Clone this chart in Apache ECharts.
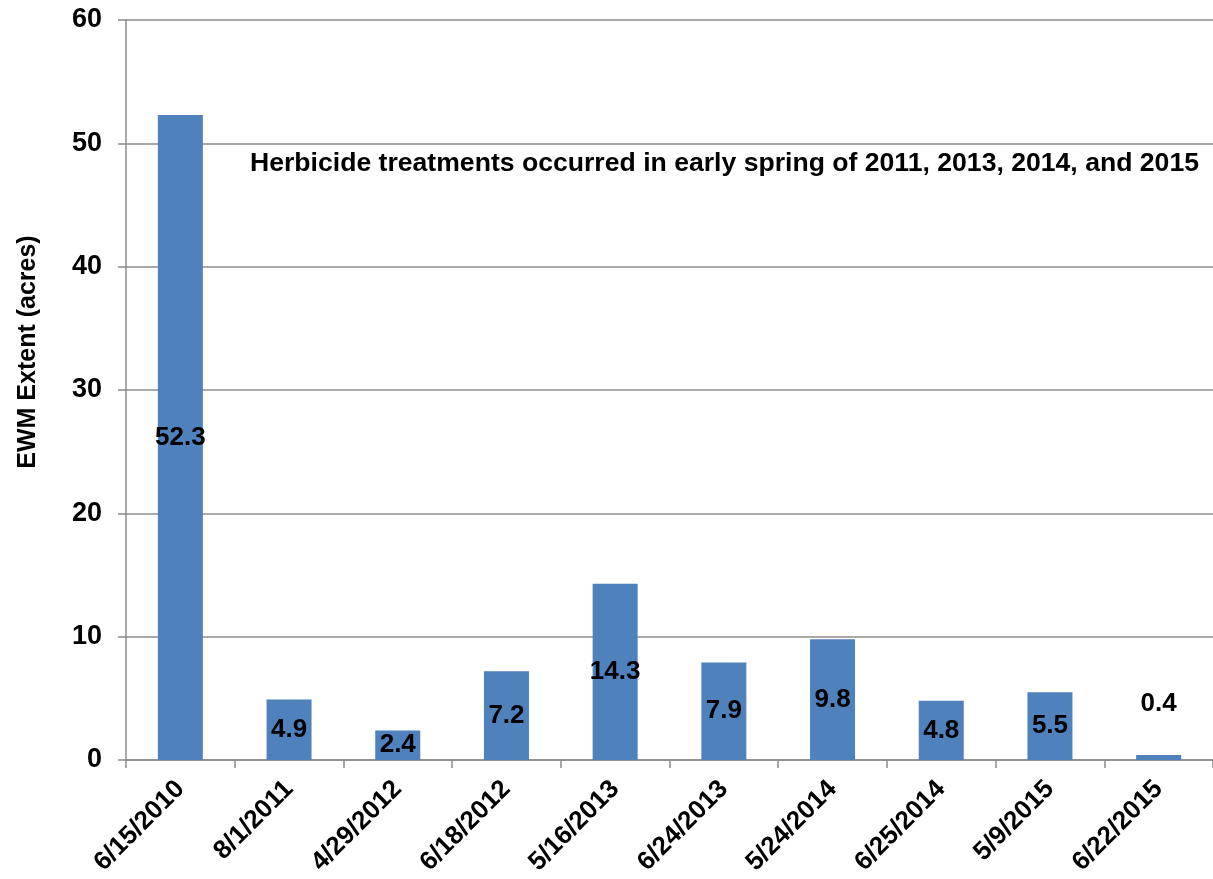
<!DOCTYPE html>
<html>
<head>
<meta charset="utf-8">
<script src="https://cdn.jsdelivr.net/npm/echarts@6/dist/echarts.min.js"></script>
<style>
  html, body { margin: 0; padding: 0; background: #ffffff; }
  #chart { width: 1213px; height: 879px; }
</style>
</head>
<body>
<div id="chart"></div>
<script>
// Survey dates and mapped Eurasian watermilfoil extent
const surveyDates = ['6/15/2010', '8/1/2011', '4/29/2012', '6/18/2012', '5/16/2013',
                     '6/24/2013', '5/24/2014', '6/25/2014', '5/9/2015', '6/22/2015'];
const ewmAcres = [52.3, 4.9, 2.4, 7.2, 14.3, 7.9, 9.8, 4.8, 5.5, 0.4];
const yTicks = [0, 10, 20, 30, 40, 50, 60];
const yAxisTitle = 'EWM Extent (acres)';
const noteText = 'Herbicide treatments occurred in early spring of 2011, 2013, 2014, and 2015';

const FONT = '"Liberation Sans", Arial, sans-serif';
const AXIS_GREY = '#8c8c8c';

const chart = echarts.init(document.getElementById('chart'), null, { renderer: 'canvas' });

// Bars too short to hold their label get it placed above instead
const barData = ewmAcres.map(v => v < 2 ? {
  value: v,
  label: { position: 'top', distance: 38 }
} : v);

chart.setOption({
  animation: false,
  backgroundColor: '#ffffff',
  grid: { left: 126, top: 20, bottom: 119, right: -6, containLabel: false },
  xAxis: {
    type: 'category',
    data: surveyDates,
    axisLine: { lineStyle: { color: AXIS_GREY, width: 1.5 } },
    axisTick: { show: true, length: 8, alignWithLabel: false, lineStyle: { color: AXIS_GREY, width: 1.5 } },
    axisLabel: {
      rotate: 45,
      margin: 25,
      color: '#000',
      fontFamily: FONT,
      fontWeight: 'bold',
      fontSize: 26,
      interval: 0
    }
  },
  yAxis: {
    type: 'value',
    min: yTicks[0],
    max: yTicks[yTicks.length - 1],
    interval: yTicks[1] - yTicks[0],
    axisLine: { show: true, lineStyle: { color: AXIS_GREY, width: 1.5 } },
    axisTick: { show: true, length: 8, inside: false, lineStyle: { color: AXIS_GREY, width: 1.5 } },
    axisLabel: {
      margin: 24,
      color: '#000',
      fontFamily: FONT,
      fontWeight: 'bold',
      fontSize: 27,
      formatter: v => yTicks.includes(v) ? String(v) : ''
    },
    splitLine: { show: true, lineStyle: { color: AXIS_GREY, width: 1.5 } }
  },
  graphic: [
    {
      // vertical axis title, sitting a little above the plot's midpoint
      type: 'text',
      x: 28,
      y: 352,
      rotation: Math.PI / 2,
      style: {
        text: yAxisTitle,
        fill: '#000',
        font: 'bold 25px ' + FONT,
        textAlign: 'center',
        textVerticalAlign: 'middle'
      }
    },
    {
      type: 'text',
      x: 250,
      y: 164,
      style: {
        text: noteText,
        fill: '#000',
        font: 'bold 26.6px ' + FONT,
        textAlign: 'left',
        textVerticalAlign: 'middle'
      }
    }
  ],
  series: [{
    type: 'bar',
    data: barData,
    barWidth: 45,
    itemStyle: { color: '#4F81BD' },
    label: {
      show: true,
      position: 'inside',
      color: '#000',
      fontFamily: FONT,
      fontWeight: 'bold',
      fontSize: 26,
      formatter: p => p.value.toFixed(1)
    }
  }]
});
</script>
</body>
</html>
